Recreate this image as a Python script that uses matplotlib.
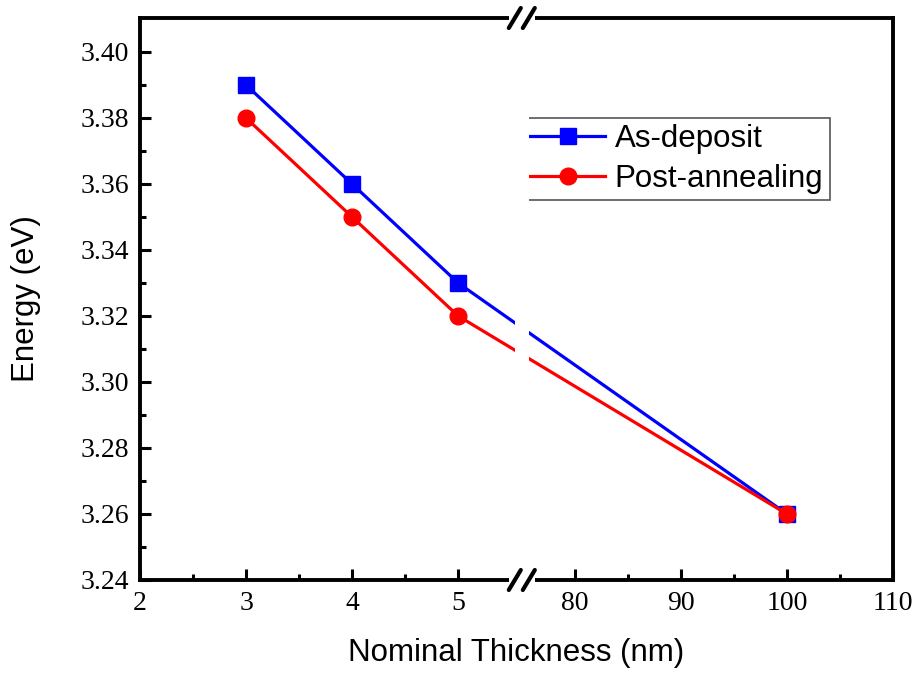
import numpy as np
import matplotlib
matplotlib.use("Agg")
import matplotlib.pyplot as plt
from matplotlib.patches import Rectangle
from matplotlib.lines import Line2D

# Data
thickness = [3, 4, 5, 100]
as_deposit = [3.39, 3.36, 3.33, 3.26]
post_annealing = [3.38, 3.35, 3.32, 3.26]

x_major = [2, 3, 4, 5, 80, 90, 100, 110]
x_minor = [2.5, 3.5, 4.5, 85, 95, 105]
y_major = [3.24, 3.26, 3.28, 3.30, 3.32, 3.34, 3.36, 3.38, 3.40]
y_minor = [3.25, 3.27, 3.29, 3.31, 3.33, 3.35, 3.37, 3.39]

# Broken axis: [2, LO] shown at full scale, [HI, 110] compressed 10x
LO, HI = 5.6, 75.0


def fwd(x):
    x = np.asarray(x, dtype=float)
    return np.where(x <= LO, x, np.where(x >= HI, LO + (x - HI) / 10.0, LO))


def inv(u):
    u = np.asarray(u, dtype=float)
    return np.where(u <= LO, u, HI + (u - LO) * 10.0)


serif = "Liberation Serif"
sans = "Liberation Sans"

fig = plt.figure(figsize=(9.22, 6.77), dpi=100)
ax = fig.add_axes([140 / 922, 1 - 580 / 677, (893 - 140) / 922, (580 - 18) / 677])
ax.set_xscale("function", functions=(fwd, inv))
ax.set_xlim(2, 110)
ax.set_ylim(3.24, 3.4103)

ax.plot(thickness, as_deposit, color="#0000ff", lw=2.3, marker="s", ms=11,
        label="As-deposit", zorder=4)
ax.plot(thickness, post_annealing, color="#ff0000", lw=2.3, marker="o", ms=12,
        label="Post-annealing", zorder=5)

ax.set_xticks(x_major)
ax.set_xticklabels([str(v) for v in x_major])
ax.set_xticks(x_minor, minor=True)
ax.set_yticks(y_major)
ax.set_yticklabels([f"{v:.2f}" for v in y_major])
ax.set_yticks(y_minor, minor=True)

ax.tick_params(which="both", direction="in", top=False, right=False, width=2.2)
ax.tick_params(which="major", length=8, labelsize=20, pad=8)
ax.tick_params(which="minor", length=4.5)
for lab in ax.get_xticklabels() + ax.get_yticklabels():
    lab.set_fontfamily(serif)

for sp in ax.spines.values():
    sp.set_linewidth(2.8)
    sp.set_zorder(6)

ax.set_xlabel("Nominal Thickness (nm)", fontsize=22.5, fontfamily=sans, labelpad=16)
ax.set_ylabel("Energy (eV)", fontsize=22.5, fontfamily=sans, labelpad=28)

leg = ax.legend(loc="upper left", bbox_to_anchor=(0.51, 0.822), frameon=True,
                fancybox=False, edgecolor="#555555", framealpha=1,
                prop={"family": sans, "size": 22.5}, handlelength=2.4,
                borderpad=0.2, labelspacing=0.3, handletextpad=0.3,
                borderaxespad=0.0)
leg.get_frame().set_linewidth(1.2)

# Break indicator: white gap through the plot and the spines, plus // marks
ux = fwd(LO)
x_axes = (float(ux) - 2) / (float(fwd(110)) - 2)
ax_w_px = 893 - 140
ax_h_px = 580 - 18
gap = 14 / ax_w_px
ax.add_patch(Rectangle((x_axes - gap / 2, -0.01), gap, 1.02, transform=ax.transAxes,
                       facecolor="white", edgecolor="none", zorder=7, clip_on=False))
sgap = 26 / ax_w_px
for yb in (0.0, 1.0):
    ax.add_patch(Rectangle((x_axes - sgap / 2, yb - 6 / ax_h_px), sgap, 12 / ax_h_px,
                           transform=ax.transAxes, facecolor="white",
                           edgecolor="none", zorder=7, clip_on=False))
    for off in (-7, 7):
        cx = x_axes + off / ax_w_px
        dx = 6 / ax_w_px
        dy = 10 / ax_h_px
        ax.add_line(Line2D([cx - dx, cx + dx], [yb - dy, yb + dy],
                           transform=ax.transAxes, color="black", lw=3,
                           solid_capstyle="round", zorder=8, clip_on=False))

fig.savefig("out.png", dpi=100, facecolor="white")
